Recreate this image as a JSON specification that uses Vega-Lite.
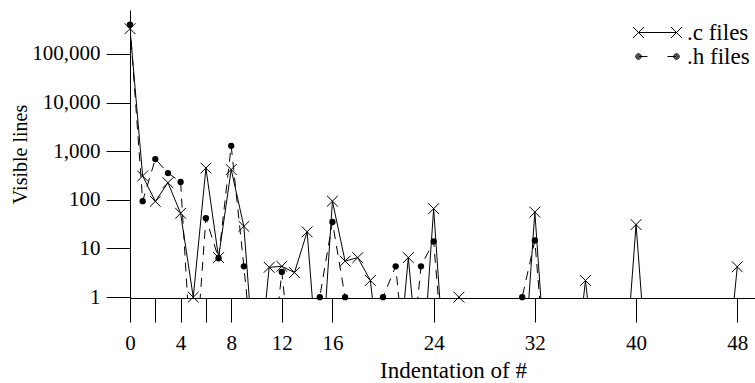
{
  "$schema": "https://vega.github.io/schema/vega-lite/v6.json",
  "autosize": "none",
  "width": 625,
  "height": 288,
  "padding": {"left": 130, "top": 10, "right": 0, "bottom": 85},
  "background": "white",
  "config": {
    "view": {"stroke": null},
    "font": "Liberation Serif",
    "axis": {"domainColor": "black", "tickColor": "black", "labelColor": "black", "titleColor": "black", "labelFont": "Liberation Serif", "titleFont": "Liberation Serif", "labelFontSize": 21, "titleFontSize": 20, "titleFontWeight": "normal", "grid": false, "domainWidth": 1, "tickWidth": 1}
  },
  "data": {"values": [
    {"indent": 0, "series": ".c files", "lines": 330000}, {"indent": 0, "series": ".h files", "lines": 400000},
    {"indent": 1, "series": ".c files", "lines": 310}, {"indent": 1, "series": ".h files", "lines": 94},
    {"indent": 2, "series": ".c files", "lines": 93}, {"indent": 2, "series": ".h files", "lines": 690},
    {"indent": 3, "series": ".c files", "lines": 225}, {"indent": 3, "series": ".h files", "lines": 355},
    {"indent": 4, "series": ".c files", "lines": 53}, {"indent": 4, "series": ".h files", "lines": 233},
    {"indent": 5, "series": ".c files", "lines": 1}, {"indent": 5, "series": ".h files", "lines": 0.01},
    {"indent": 6, "series": ".c files", "lines": 450}, {"indent": 6, "series": ".h files", "lines": 42},
    {"indent": 7, "series": ".c files", "lines": 6.5}, {"indent": 7, "series": ".h files", "lines": 6.3},
    {"indent": 8, "series": ".c files", "lines": 420}, {"indent": 8, "series": ".h files", "lines": 1290},
    {"indent": 9, "series": ".c files", "lines": 28.5}, {"indent": 9, "series": ".h files", "lines": 4.3},
    {"indent": 10, "series": ".c files", "lines": 0.01}, {"indent": 10, "series": ".h files", "lines": 0.01},
    {"indent": 11, "series": ".c files", "lines": 4.1}, {"indent": 11, "series": ".h files", "lines": 0.01},
    {"indent": 12, "series": ".c files", "lines": 4.3}, {"indent": 12, "series": ".h files", "lines": 3.3},
    {"indent": 13, "series": ".c files", "lines": 3.2}, {"indent": 13, "series": ".h files", "lines": 0.01},
    {"indent": 14, "series": ".c files", "lines": 22}, {"indent": 14, "series": ".h files", "lines": 0.01},
    {"indent": 15, "series": ".c files", "lines": 0.01}, {"indent": 15, "series": ".h files", "lines": 1},
    {"indent": 16, "series": ".c files", "lines": 94}, {"indent": 16, "series": ".h files", "lines": 35},
    {"indent": 17, "series": ".c files", "lines": 5.5}, {"indent": 17, "series": ".h files", "lines": 1},
    {"indent": 18, "series": ".c files", "lines": 6.5}, {"indent": 18, "series": ".h files", "lines": 0.01},
    {"indent": 19, "series": ".c files", "lines": 2.2}, {"indent": 19, "series": ".h files", "lines": 0.01},
    {"indent": 20, "series": ".c files", "lines": 0.01}, {"indent": 20, "series": ".h files", "lines": 1},
    {"indent": 21, "series": ".c files", "lines": 0.01}, {"indent": 21, "series": ".h files", "lines": 4.3},
    {"indent": 22, "series": ".c files", "lines": 6.5}, {"indent": 22, "series": ".h files", "lines": 0.01},
    {"indent": 23, "series": ".c files", "lines": 0.01}, {"indent": 23, "series": ".h files", "lines": 4.3},
    {"indent": 24, "series": ".c files", "lines": 66}, {"indent": 24, "series": ".h files", "lines": 14},
    {"indent": 25, "series": ".c files", "lines": 0.01}, {"indent": 25, "series": ".h files", "lines": 0.01},
    {"indent": 26, "series": ".c files", "lines": 1}, {"indent": 26, "series": ".h files", "lines": 0.01},
    {"indent": 27, "series": ".c files", "lines": 0.01}, {"indent": 27, "series": ".h files", "lines": 0.01},
    {"indent": 28, "series": ".c files", "lines": 0.01}, {"indent": 28, "series": ".h files", "lines": 0.01},
    {"indent": 29, "series": ".c files", "lines": 0.01}, {"indent": 29, "series": ".h files", "lines": 0.01},
    {"indent": 30, "series": ".c files", "lines": 0.01}, {"indent": 30, "series": ".h files", "lines": 0.01},
    {"indent": 31, "series": ".c files", "lines": 0.01}, {"indent": 31, "series": ".h files", "lines": 1},
    {"indent": 32, "series": ".c files", "lines": 56}, {"indent": 32, "series": ".h files", "lines": 14.6},
    {"indent": 33, "series": ".c files", "lines": 0.01}, {"indent": 33, "series": ".h files", "lines": 0.01},
    {"indent": 34, "series": ".c files", "lines": 0.01}, {"indent": 34, "series": ".h files", "lines": 0.01},
    {"indent": 35, "series": ".c files", "lines": 0.01}, {"indent": 35, "series": ".h files", "lines": 0.01},
    {"indent": 36, "series": ".c files", "lines": 2.2}, {"indent": 36, "series": ".h files", "lines": 0.01},
    {"indent": 37, "series": ".c files", "lines": 0.01}, {"indent": 37, "series": ".h files", "lines": 0.01},
    {"indent": 38, "series": ".c files", "lines": 0.01}, {"indent": 38, "series": ".h files", "lines": 0.01},
    {"indent": 39, "series": ".c files", "lines": 0.01}, {"indent": 39, "series": ".h files", "lines": 0.01},
    {"indent": 40, "series": ".c files", "lines": 31}, {"indent": 40, "series": ".h files", "lines": 0.01},
    {"indent": 41, "series": ".c files", "lines": 0.01}, {"indent": 41, "series": ".h files", "lines": 0.01},
    {"indent": 42, "series": ".c files", "lines": 0.01}, {"indent": 42, "series": ".h files", "lines": 0.01},
    {"indent": 43, "series": ".c files", "lines": 0.01}, {"indent": 43, "series": ".h files", "lines": 0.01},
    {"indent": 44, "series": ".c files", "lines": 0.01}, {"indent": 44, "series": ".h files", "lines": 0.01},
    {"indent": 45, "series": ".c files", "lines": 0.01}, {"indent": 45, "series": ".h files", "lines": 0.01},
    {"indent": 46, "series": ".c files", "lines": 0.01}, {"indent": 46, "series": ".h files", "lines": 0.01},
    {"indent": 47, "series": ".c files", "lines": 0.01}, {"indent": 47, "series": ".h files", "lines": 0.01},
    {"indent": 48, "series": ".c files", "lines": 4.2}, {"indent": 48, "series": ".h files", "lines": 0.01}
  ]},
  "encoding": {
    "x": {
      "field": "indent", "type": "quantitative",
      "scale": {"domain": [0, 49.4], "nice": false, "zero": false},
      "axis": {
        "values": [0, 2, 4, 6, 8, 12, 16, 24, 32, 40, 48],
        "labelExpr": "datum.value == 2 || datum.value == 6 ? '' : datum.label",
        "tickSize": 24, "labelPadding": 10, "labelFlush": false, "labelOverlap": false,
        "title": "Indentation of #", "titleFontSize": 23, "titleX": 323, "titleY": 79, "titleBaseline": "alphabetic"
      }
    },
    "y": {
      "field": "lines", "type": "quantitative",
      "scale": {"type": "log", "domain": [0.96, 800000], "nice": false},
      "axis": {
        "values": [1, 10, 100, 1000, 10000, 100000],
        "format": ",.0f",
        "tickSize": 24, "labelPadding": 6, "labelFlush": false, "labelOverlap": false,
        "title": "Visible lines", "titleX": -110, "titleY": 144, "titleBaseline": "middle"
      }
    }
  },
  "layer": [
    {
      "transform": [{"filter": "datum.series == '.c files'"}],
      "mark": {"type": "line", "clip": true, "color": "black", "strokeWidth": 1},
      "encoding": {}
    },
    {
      "transform": [{"filter": "datum.series == '.h files'"}],
      "mark": {"type": "line", "clip": true, "color": "black", "strokeWidth": 1, "strokeDash": [9, 7]},
      "encoding": {}
    },
    {
      "transform": [{"filter": "datum.series == '.c files' && datum.lines >= 0.5"}],
      "mark": {"type": "point", "filled": false, "color": "black", "strokeWidth": 1, "opacity": 1, "size": 36, "shape": "M-1.8,-1.8L1.8,1.8M-1.8,1.8L1.8,-1.8"},
      "encoding": {}
    },
    {
      "transform": [{"filter": "datum.series == '.h files' && datum.lines >= 0.5"}],
      "mark": {"type": "point", "filled": true, "color": "black", "opacity": 1, "size": 40, "shape": "circle"},
      "encoding": {}
    },
    {
      "transform": [{"filter": "datum.lines >= 0.5"}],
      "mark": {"type": "point", "filled": false, "color": "black", "strokeWidth": 1, "opacity": 0, "size": 36},
      "encoding": {
        "shape": {
          "field": "series", "type": "nominal",
          "scale": {"domain": [".c files", ".h files"], "range": [
            "M-3.06,-0.69L-1.69,0.69M-3.06,0.69L-1.69,-0.69M-2.375,0L2.375,0M1.69,-0.69L3.06,0.69M1.69,0.69L3.06,-0.69",
            "M-2.025,0A0.35 0.35 0 1 1 -2.725,0A0.35 0.35 0 1 1 -2.025,0M-2.135,0A0.24 0.24 0 1 1 -2.615,0A0.24 0.24 0 1 1 -2.135,0M-2.255,0A0.12 0.12 0 1 1 -2.495,0A0.12 0.12 0 1 1 -2.255,0M-2.375,0L-1.25,0M1.25,0L2.375,0M2.725,0A0.35 0.35 0 1 1 2.025,0A0.35 0.35 0 1 1 2.725,0M2.615,0A0.24 0.24 0 1 1 2.135,0A0.24 0.24 0 1 1 2.615,0M2.495,0A0.12 0.12 0 1 1 2.255,0A0.12 0.12 0 1 1 2.495,0"
          ]},
          "legend": {
            "title": null, "orient": "none", "legendX": 516, "legendY": 11, "padding": 0,
            "symbolSize": 256, "labelOffset": 18, "labelFontSize": 23, "labelFont": "Liberation Serif", "labelColor": "black",
            "rowPadding": 0, "symbolStrokeColor": "black", "symbolStrokeWidth": 1, "symbolOpacity": 1
          }
        }
      }
    }
  ]
}
